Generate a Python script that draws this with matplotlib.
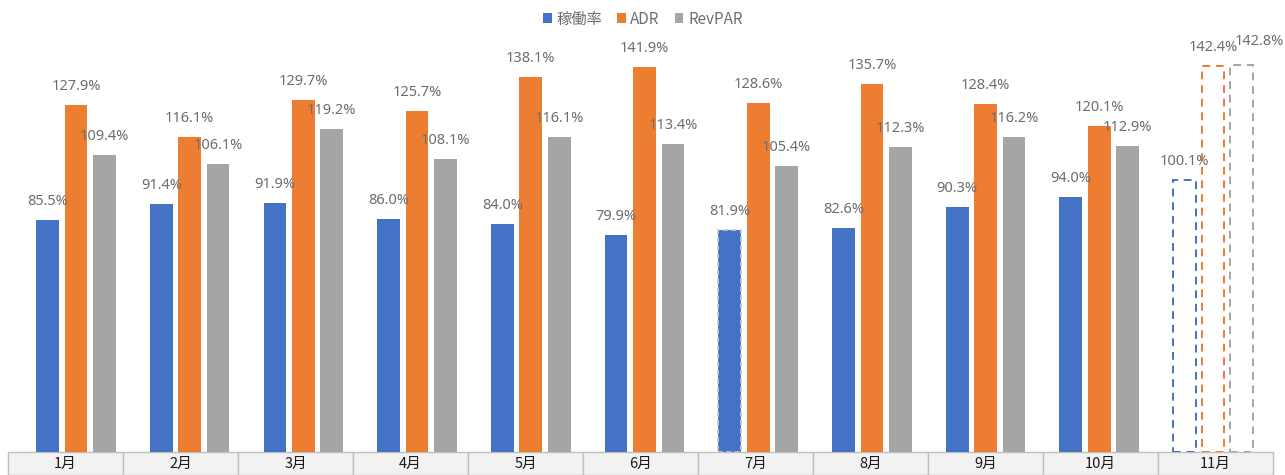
import matplotlib
matplotlib.use("Agg")
import matplotlib.pyplot as plt
from matplotlib.patches import Rectangle
import numpy as np

plt.rcParams["font.family"] = ["Noto Sans CJK JP", "DejaVu Sans"]

months = ["1月", "2月", "3月", "4月", "5月", "6月", "7月", "8月", "9月", "10月", "11月"]
occupancy = [85.5, 91.4, 91.9, 86.0, 84.0, 79.9, 81.9, 82.6, 90.3, 94.0, 100.1]
adr = [127.9, 116.1, 129.7, 125.7, 138.1, 141.9, 128.6, 135.7, 128.4, 120.1, 142.4]
revpar = [109.4, 106.1, 119.2, 108.1, 116.1, 113.4, 105.4, 112.3, 116.2, 112.9, 142.8]
series_names = ["稼働率", "ADR", "RevPAR"]
colors = ["#4472c4", "#ed7d31", "#a5a5a5"]

W, H = 1285, 475
fig = plt.figure(figsize=(W / 100, H / 100), dpi=100)
# axes spans pixel x 8..1273, y 40..452 (from top)
ax = fig.add_axes([8 / W, (H - 452) / H, 1265 / W, 412 / H])

x = np.arange(len(months))
width = 0.2
offsets = [-0.25, 0.0, 0.25]
n_last = len(months) - 1
label_font = ["Noto Sans", "DejaVu Sans"]

for k, (vals, name, color, off) in enumerate(zip([occupancy, adr, revpar], series_names, colors, offsets)):
    vals = np.array(vals)
    ax.bar(x[:n_last] + off, vals[:n_last], width, color=color, label=name, zorder=2)
    # forecast month: dashed outline only
    ax.bar(x[n_last] + off, vals[n_last], width, facecolor="white", edgecolor=color,
           linestyle=(0, (4, 3)), linewidth=1.4, zorder=2)
    for i, (xi, v) in enumerate(zip(x + off, vals)):
        dx, dy = 0, 0
        if i == n_last and k == 2:
            dx, dy = 18, 5  # shifted in the original to dodge the ADR label
        ax.annotate(f"{v:.1f}%", (xi, v), xytext=(dx, 11 + dy), textcoords="offset pixels",
                    ha="center", va="bottom", fontsize=10.5, color="#6e6e6e",
                    family=label_font)

# July occupancy bar has a dashed grey edge
ax.patches[6].set_edgecolor("#c8c8c8")
ax.patches[6].set_linestyle((0, (3, 2)))
ax.patches[6].set_linewidth(1.2)

ax.set_xlim(-0.598, 10.528)
ax.set_ylim(0, 412 / 2.713)
ax.set_xticks([])
ax.set_yticks([])
for s in ax.spines.values():
    s.set_visible(False)

# category table below the plot
cell_h = 23 / 412
n = len(months)
for i, m in enumerate(months):
    ax.add_patch(Rectangle((i / n, -cell_h), 1 / n, cell_h, transform=ax.transAxes,
                           facecolor="#f2f2f2", edgecolor="#bfbfbf", linewidth=1,
                           clip_on=False, zorder=1))
    ax.text((i + 0.5) / n, -cell_h / 2, m, transform=ax.transAxes, ha="center",
            va="center", fontsize=10.5, color="#1a1a1a")

handles, labels = ax.get_legend_handles_labels()
fig.legend(handles, labels, loc="center", bbox_to_anchor=(643 / W, 1 - 19 / H), ncol=3,
           frameon=False, fontsize=11, handlelength=0.55, handleheight=0.55,
           handletextpad=0.3, columnspacing=1.0, labelcolor="#6e6e6e")

fig.savefig("out.png", dpi=100)
